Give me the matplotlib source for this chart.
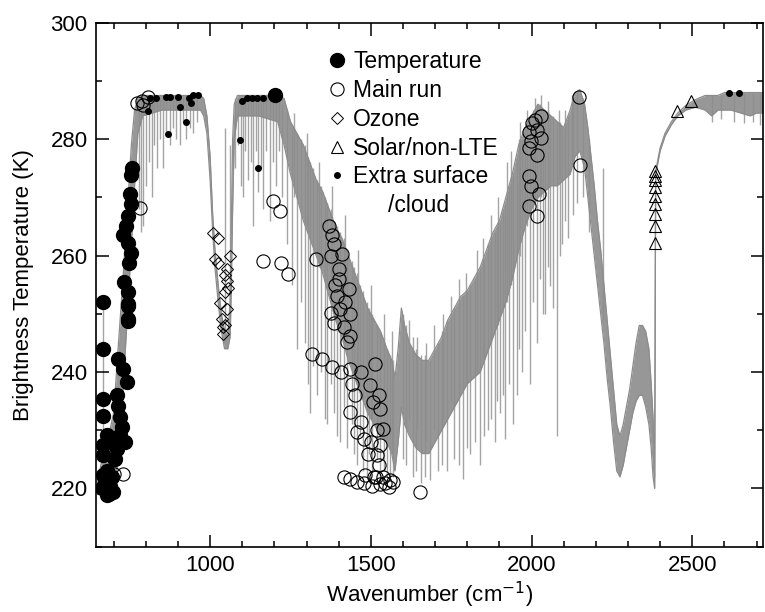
import matplotlib
matplotlib.use("Agg")
import matplotlib.pyplot as plt

plt.rcParams['font.family'] = ['Liberation Sans', 'DejaVu Sans']

# spectrum: envelope of the dense grey band (wavenumber, top, bottom)
band_wn = [650, 660, 680, 700, 715, 730, 745, 755, 765, 775, 790, 850, 900, 950, 970,
           980, 990, 1000, 1008, 1015, 1025, 1035, 1045, 1055, 1062, 1066, 1070, 1075, 1085,
           1150, 1210, 1230, 1250, 1270, 1290, 1310, 1330, 1350, 1370, 1390, 1410, 1430,
           1450, 1470, 1490, 1510, 1530, 1550, 1565, 1575, 1585, 1595, 1605, 1620, 1640,
           1660, 1680, 1700, 1720, 1740, 1760, 1780, 1800, 1820, 1840, 1860, 1880, 1900,
           1920, 1940, 1960, 1980, 2000, 2020, 2040, 2060, 2080, 2100, 2120, 2135, 2150,
           2165, 2175, 2185, 2195, 2205, 2215, 2225, 2235, 2245, 2255, 2265, 2275, 2285,
           2295, 2305, 2315, 2325, 2335, 2345, 2355, 2365, 2372, 2378, 2383, 2386, 2400,
           2415, 2435, 2455, 2480, 2510, 2540, 2560, 2580, 2600, 2620, 2650, 2680, 2700, 2720]
band_hi = [221, 224, 228, 233, 245, 257, 270, 279, 285, 287, 287.5, 287.5, 287.5, 287.5, 287.5,
           287, 284, 277, 267, 261, 255, 250, 247, 246, 252, 265, 280, 286, 287.5,
           287.5, 287.5, 287, 283, 281, 279, 276, 273, 271, 268, 265, 263, 260,
           257, 254, 251, 249, 247, 244, 242, 239, 244, 251, 248, 245, 243,
           242, 242, 244, 246, 249, 251, 253, 254, 256, 258, 261, 264, 266,
           270, 274, 279, 282, 284, 286, 285, 284, 283, 282, 285, 288, 288.5,
           286, 282, 277, 272, 266, 261, 255, 249, 243, 237, 231, 229, 231,
           234, 237, 241, 245, 248, 248, 247, 244, 238, 232, 222, 274.5, 278.5,
           281, 283, 284.5, 285.8, 286.8, 287.5, 287.5, 287.5, 288, 288, 288, 288, 288, 288]
band_lo = [219, 219, 219, 220, 225, 238, 252, 262, 272, 281, 284, 285, 285, 285, 285,
           284, 281, 273, 264, 258, 252, 247, 244, 244, 246, 255, 268, 280, 284,
           284, 283, 279, 274, 270, 266, 263, 260, 257, 253, 249, 246, 242,
           239, 236, 233, 231, 229, 228, 226, 223, 228, 234, 231, 229, 227,
           226, 226, 228, 230, 232, 234, 236, 238, 239, 240, 243, 246, 249,
           252, 256, 261, 265, 268, 270, 271, 272, 272, 273, 274, 277, 278,
           275, 270, 265, 260, 255, 250, 245, 239, 234, 228, 223, 222, 224,
           227, 230, 233, 235, 236, 236, 234, 231, 227, 222, 220, 274, 278,
           280.5, 282.5, 284, 285, 285.5, 285, 284, 285, 285, 285, 284.5, 284, 284.5, 284.5]

# single lines sticking out of the band (wavenumber, bottom, top)
spike_wn = [667, 778, 785, 792, 800, 810, 818, 826, 836, 845, 852, 862, 875, 885, 895, 905,
            915, 925, 938, 948, 958, 1046, 1062, 1078, 1088, 1095, 1102, 1110, 1118, 1126,
            1134, 1142, 1150, 1158, 1165, 1175, 1186, 1195, 1205, 1215, 1225,
            1240, 1255, 1270, 1282, 1295, 1305, 1311, 1320, 1332, 1345, 1356, 1363, 1375,
            1385, 1395, 1404, 1415, 1425, 1440, 1448, 1456, 1465, 1475, 1487, 1495, 1505,
            1518, 1529, 1540, 1550, 1560, 1570, 1610, 1630, 1655, 1685, 1710, 1737, 1760,
            1788, 1810, 1840, 1865, 1885, 1902, 1918, 1943, 1955, 1970, 1995, 2016, 2036,
            2042, 2057, 2068, 2078, 2095, 2114, 2140, 2160, 2180, 2221,
            2560, 2590, 2630, 2660, 2690, 2710,
            1262, 1300, 1340, 1380, 1420, 1460, 1500, 1540, 1565,
            1620, 1645, 1672, 1695, 1725, 1750, 1775, 1795, 1830, 1850, 1875, 1895, 1925,
            1935, 1965, 1985, 2010, 2030, 2050, 2085, 2105, 2125,
            1600, 1640, 1668, 1722, 1775, 1800, 1825, 1852, 1875, 1893, 1910, 1930, 1962,
            1980, 2005, 2025, 2050, 2088, 2105, 2128]
spike_lo = [218, 268, 264, 265, 272, 276, 270, 279, 275, 280, 275, 281, 279, 282, 280, 279,
            283, 280, 282, 281, 283, 245, 248, 275, 279, 272, 270, 278, 273, 276,
            265, 278, 271, 275, 268, 278, 266, 276, 272, 278, 270,
            262, 255, 244, 252, 245, 238, 233, 241, 236, 240, 232, 231, 238,
            233, 229, 228, 234, 227, 231, 226, 224, 229, 223, 222, 226, 223,
            225, 221, 223, 222, 221.5, 222, 224, 222, 221, 221.5, 223, 223, 225,
            221.7, 226, 224, 230, 228, 233, 228.5, 231, 236, 240, 238, 245, 250,
            250, 254.8, 251, 229, 262, 263, 269, 270, 264, 249,
            283, 283.5, 283, 282.8, 283, 282.5,
            270, 265, 258, 252, 245, 238, 232, 228, 226,
            232, 230, 228, 230, 232, 235, 237, 238, 240, 242, 245, 248, 252,
            255, 260, 265, 270, 270, 272, 273, 274, 276,
            225, 223, 222, 224, 224, 227, 228, 229, 232, 235, 236, 238, 244,
            247, 252, 256, 258, 260, 266, 267]
spike_hi = [252, 287, 287, 287, 287, 287, 287, 287, 287, 287, 287, 287, 287, 287, 287, 287,
            287, 287, 287, 287, 287, 282, 279, 287, 287, 287, 287, 287, 287, 287,
            287, 287, 287, 287, 287, 287, 287, 287, 287, 287, 286,
            285, 282, 281, 280, 279, 277, 276, 275, 273, 272, 270, 269, 268,
            266, 265, 264, 263, 261, 259, 258, 257, 255, 254, 252, 251, 250,
            248, 247, 246, 244, 243, 242, 248, 246, 243, 242, 245, 249, 251,
            253, 255, 258, 262, 264, 266, 269, 274, 277, 280, 284, 286, 285,
            285, 284, 284, 283, 282, 284, 288, 287, 280, 275,
            287.5, 287.5, 288, 288, 288, 288,
            284.5, 281, 276, 272, 267, 261, 255, 250, 247,
            249, 246, 245, 248, 250, 253, 256, 257, 261, 263, 267, 270, 276,
            278, 283, 285, 287, 287.5, 286.5, 285, 285, 287.5,
            250, 244, 243, 247, 252, 254, 256, 259, 263, 265, 268, 272, 280,
            282, 285, 286, 285, 283, 283, 287]

temp_wn = [756, 753, 751, 753, 745, 739, 728, 743, 753, 748, 733, 743, 743, 743, 743, 743,
           668, 668, 714, 730, 740, 668, 709, 714, 668, 720, 678, 720, 668, 709, 668, 668,
           690, 678, 699, 663, 680, 695, 705, 700, 672, 685, 725, 735, 1202]
temp_bt = [275.1, 273.9, 270.5, 268.8, 266.8, 265.1, 263.6, 262.2, 260.5, 258.8, 255.4, 253.7,
           251.4, 249.1, 251.7, 248.8, 252.0, 243.9, 242.2, 240.5, 238.3, 235.4, 236.0, 234.2,
           232.5, 232.3, 229.1, 229.1, 227.4, 226.8, 225.7, 222.3, 220.5, 218.8, 219.4, 220.0,
           223.0, 222.0, 225.0, 228.0, 221.0, 219.0, 230.5, 228.0, 287.6]

main_wn = [772, 787, 808, 792, 782, 1163, 1196, 1217, 1222, 1242, 1369, 1380, 1385, 1328,
           1375, 1411, 1400, 1400, 1431, 1395, 1405, 1375, 1436, 1385, 1416, 1436, 1426,
           1318, 1349, 1380, 1406, 1436, 1468, 1513, 1498, 1524, 1508, 1529, 1436, 1468,
           1539, 1457, 1478, 1529, 1519, 1524, 1416, 1436, 1457, 1483, 1503, 1529, 1555,
           1570, 1539, 1652, 1390, 1420, 1440, 1450, 1490, 1510, 1545, 1500, 1520, 1480,
           1560, 1515, 2147, 2152, 2028, 2002, 2018, 1992, 2028, 1997, 1992, 2018, 1992,
           1997, 2023, 1992, 2018, 2012, 730, 700, 700]
main_bt = [286.2, 286.5, 287.3, 285.9, 268.2, 259.1, 269.3, 267.6, 258.8, 256.8, 265.1, 263.6,
           262.0, 259.4, 260.0, 260.2, 257.7, 256.0, 254.2, 253.1, 250.8, 250.2, 250.0, 248.5,
           247.7, 246.2, 245.1, 243.1, 242.2, 240.8, 240.0, 240.5, 240.0, 241.4, 237.7, 236.0,
           234.8, 233.7, 233.1, 231.4, 230.3, 229.7, 228.5, 227.4, 225.7, 224.0, 222.0, 221.7,
           221.1, 222.3, 220.5, 220.8, 220.3, 221.1, 222.0, 219.4, 255.0, 252.0, 238.0, 236.0,
           226.0, 222.0, 221.0, 228.0, 230.0, 221.0, 221.5, 222.0, 287.3, 275.6, 283.9, 282.8,
           281.6, 281.3, 280.2, 279.6, 278.5, 277.3, 273.6, 271.9, 270.5, 268.5, 266.8, 283.3,
           222.5, 225.0, 222.5]

ozone_wn = [1010, 1026, 1015, 1026, 1061, 1051, 1046, 1051, 1056, 1046, 1032, 1051, 1036,
            1041, 1041, 1046]
ozone_bt = [263.9, 263.1, 259.4, 258.8, 259.9, 257.7, 256.6, 255.7, 254.5, 253.7, 251.9,
            250.8, 249.1, 247.7, 246.5, 248.0]

solar_wn = [2384, 2384, 2384, 2384, 2384, 2384, 2384, 2384, 2384, 2451, 2497]
solar_bt = [262.2, 265.1, 267.1, 268.8, 270.3, 271.7, 272.9, 273.7, 274.5, 284.8, 286.5]

extra_wn = [812, 807, 833, 864, 875, 901, 933, 948, 963, 905, 942, 869, 926, 1098, 1114,
            1129, 1145, 1165, 1093, 1150, 2613, 2644]
extra_bt = [287.0, 284.8, 287.0, 287.3, 287.3, 287.3, 287.0, 287.6, 287.6, 285.6, 286.2,
            280.8, 283.0, 286.5, 287.0, 287.0, 287.0, 287.0, 279.9, 275.1, 287.9, 287.9]

fig = plt.figure(figsize=(7.65, 6.12), dpi=100)
ax = fig.add_axes([0.1255, 0.1067, 0.8719, 0.8562])

# spectre en gris
ax.vlines(spike_wn, spike_lo, spike_hi, color='#a4a4a4', linewidth=1.0, zorder=1)
ax.fill_between(band_wn, band_lo, band_hi, color='#8c8c8c', linewidth=0, alpha=0.9, zorder=2)
ax.plot(band_wn, band_hi, color='#8c8c8c', linewidth=0.9, zorder=2)
ax.plot(band_wn, band_lo, color='#8c8c8c', linewidth=0.9, zorder=2)

# marqueurs
ax.plot(temp_wn, temp_bt, 'o', color='black', markersize=10, linestyle='none',
        label='Temperature', zorder=5)
ax.plot(main_wn, main_bt, 'o', markerfacecolor='none', markeredgecolor='black',
        markeredgewidth=0.8, markersize=9.5, linestyle='none', label='Main run', zorder=4)
ax.plot(ozone_wn, ozone_bt, 'D', markerfacecolor='none', markeredgecolor='black',
        markeredgewidth=0.7, markersize=6.5, linestyle='none', label='Ozone', zorder=4)
ax.plot(solar_wn, solar_bt, '^', markerfacecolor='none', markeredgecolor='black',
        markeredgewidth=0.8, markersize=9, linestyle='none', label='Solar/non-LTE', zorder=4)
ax.plot(extra_wn, extra_bt, 'o', color='black', markersize=4, linestyle='none',
        label='Extra surface', zorder=5)

ax.set_xlim(645, 2720)
ax.set_ylim(210, 300)
ax.set_xticks([1000, 1500, 2000, 2500])
ax.set_xticks(range(700, 2701, 100), minor=True)
ax.set_yticks([220, 240, 260, 280, 300])
ax.set_yticks(range(210, 301, 10), minor=True)
ax.tick_params(which='both', direction='in', top=True, right=True, labelsize=16, width=1.1)
ax.tick_params(which='major', length=9, pad=6)
ax.tick_params(which='minor', length=4)
for s in ax.spines.values():
    s.set_linewidth(1.2)

ax.set_xlabel('Wavenumber (cm$^{-1}$)', fontsize=16, labelpad=3)
ax.set_ylabel('Brightness Temperature (K)', fontsize=16, labelpad=12)

leg = ax.legend(loc='upper left', bbox_to_anchor=(0.351, 0.947), frameon=False, fontsize=16.5,
                handlelength=0.6, handletextpad=0.4, labelspacing=0.25, borderpad=0,
                borderaxespad=0, numpoints=1)
ax.text(0.484, 0.652, '/cloud', transform=ax.transAxes, fontsize=16.5, ha='center', va='center')

fig.savefig('out.png', dpi=100)
